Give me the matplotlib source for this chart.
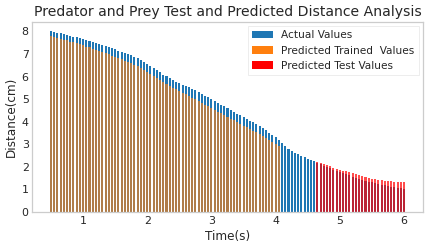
import numpy as np
import matplotlib
matplotlib.use('Agg')
import matplotlib.pyplot as plt
from matplotlib.ticker import MultipleLocator

# time grid (s), one bar every 0.05 s
time = np.round(np.arange(0.5, 6.001, 0.05), 2)

actual = [
    8.02, 7.98, 7.95, 7.92, 7.88, 7.85, 7.81, 7.77, 7.73, 7.69,
    7.65, 7.61, 7.57, 7.53, 7.49, 7.45, 7.40, 7.35, 7.30, 7.25,
    7.20, 7.15, 7.10, 7.05, 7.00, 6.94, 6.87, 6.80, 6.72, 6.63,
    6.54, 6.45, 6.36, 6.27, 6.18, 6.09, 6.01, 5.93, 5.85, 5.77,
    5.70, 5.64, 5.58, 5.52, 5.46, 5.40, 5.32, 5.24, 5.16, 5.08,
    5.00, 4.92, 4.84, 4.76, 4.68, 4.60, 4.52, 4.44, 4.36, 4.28,
    4.20, 4.12, 4.05, 3.98, 3.90, 3.82, 3.72, 3.62, 3.52, 3.42,
    3.32, 3.20, 3.05, 2.92, 2.81, 2.72, 2.63, 2.55, 2.48, 2.42,
    2.36, 2.30, 2.24, 2.18, 2.12, 2.06, 2.00, 1.94, 1.88, 1.82,
    1.77, 1.72, 1.67, 1.62, 1.57, 1.52, 1.47, 1.43, 1.39, 1.35,
    1.31, 1.28, 1.25, 1.22, 1.19, 1.16, 1.13, 1.10, 1.08, 1.05,
    1.02,
]

pred_train = [
    7.80, 7.76, 7.72, 7.68, 7.64, 7.60, 7.55, 7.51, 7.47, 7.42,
    7.38, 7.33, 7.29, 7.24, 7.19, 7.14, 7.09, 7.04, 6.98, 6.93,
    6.88, 6.82, 6.77, 6.71, 6.65, 6.59, 6.52, 6.45, 6.37, 6.29,
    6.20, 6.11, 6.02, 5.93, 5.84, 5.75, 5.67, 5.59, 5.51, 5.43,
    5.35, 5.28, 5.21, 5.14, 5.07, 5.00, 4.92, 4.84, 4.76, 4.68,
    4.60, 4.52, 4.44, 4.37, 4.29, 4.21, 4.13, 4.06, 3.98, 3.90,
    3.82, 3.75, 3.68, 3.61, 3.54, 3.46, 3.38, 3.29, 3.20, 3.11,
    3.02, 2.92,
]

pred_test = [
    2.22, 2.17, 2.12, 2.07, 2.02, 1.97, 1.92, 1.88, 1.84, 1.80,
    1.76, 1.72, 1.68, 1.64, 1.60, 1.56, 1.52, 1.48, 1.45, 1.43,
    1.41, 1.39, 1.37, 1.36, 1.35, 1.34, 1.33, 1.32,
]

time_train = time[:len(pred_train)]
time_test = time[len(time) - len(pred_test):]

plt.style.use('seaborn-v0_8-white')
plt.rcParams['font.family'] = ['DejaVu Sans']

fig = plt.figure(figsize=(435 / 72, 246 / 72), dpi=72)
ax = fig.add_axes([0.074, 0.138, 0.898, 0.773])

w = 0.032
ax.bar(time, actual, width=w, color='tab:blue', label='Actual Values')
ax.bar(time_train, pred_train, width=w, color='tab:orange', alpha=0.65,
       label='Predicted Trained  Values')
ax.bar(time_test, pred_test, width=w, color='red', alpha=0.7,
       label='Predicted Test Values')

ax.set_title('Predator and Prey Test and Predicted Distance Analysis',
             fontsize=14, color='0.15')
ax.set_xlabel('Time(s)', fontsize=12, color='0.15')
ax.set_ylabel('Distance(cm)', fontsize=12, color='0.15')
ax.yaxis.set_major_locator(MultipleLocator(1))
ax.tick_params(labelsize=11, labelcolor='0.15', length=0)
for s in ax.spines.values():
    s.set_color('0.8')

leg = ax.legend(loc='upper right', fontsize=10.5, frameon=True,
                edgecolor='0.93', framealpha=1, fancybox=False,
                handlelength=2.0, borderaxespad=0.4)
for h in leg.legend_handles:
    h.set_alpha(1)

fig.savefig('out.png', dpi=72)
